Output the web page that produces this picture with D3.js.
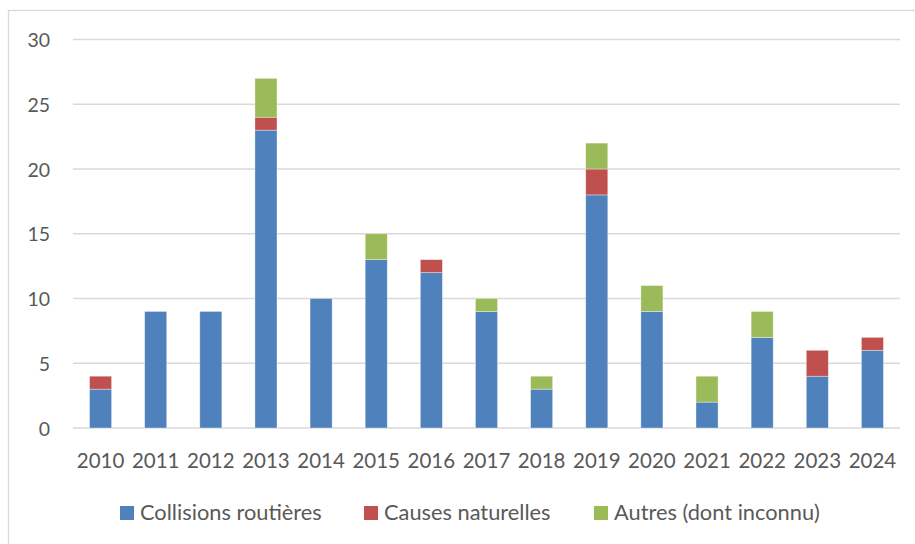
<!DOCTYPE html>
<html lang="fr">
<head>
<meta charset="UTF-8">
<title>Mortalité</title>
<style>
  body { margin: 0; background: #fff; }
  text { font-family: Lato, "Open Sans", sans-serif; fill: #595959; }
</style>
</head>
<body>
<script src="https://cdn.jsdelivr.net/npm/d3@7"></script>
<script>
  // données
  let years = ['2010', '2011', '2012', '2013', '2014', '2015', '2016', '2017', '2018', '2019', '2020', '2021', '2022', '2023', '2024']
  let collisions = [3, 9, 9, 23, 10, 13, 12, 9, 3, 18, 9, 2, 7, 4, 6]
  let naturelles = [1, 0, 0, 1, 0, 0, 1, 0, 0, 2, 0, 0, 0, 2, 1]
  let autres = [0, 0, 0, 3, 0, 2, 0, 1, 1, 2, 2, 2, 2, 0, 0]
  let seriesNames = ['Collisions routières', 'Causes naturelles', 'Autres (dont inconnu)']
  let colors = ['#4F81BD', '#C0504D', '#9BBB59']
  let yTicks = [0, 5, 10, 15, 20, 25, 30]

  let width = 915
  let height = 544

  let svg = d3.select('body').append('svg')
    .attr('width', width)
    .attr('height', height)

  // cadre du graphique
  svg.append('rect')
    .attr('x', 8.5).attr('y', 10.5)
    .attr('width', 930).attr('height', 560)
    .attr('fill', 'none')
    .attr('stroke', '#d9d9d9')
    .attr('stroke-width', 1.3)

  let table = years.map((y, i) => ({ year: y, c: collisions[i], n: naturelles[i], a: autres[i] }))
  let stack = d3.stack().keys(['c', 'n', 'a'])(table)

  let x = d3.scaleBand()
    .domain(years)
    .range([73, 900])
    .paddingInner(0.6)
    .paddingOuter(0.3)

  let y = d3.scaleLinear()
    .domain([0, 30])
    .range([428, 39.5])

  // lignes de la grille
  svg.append('g')
    .selectAll('line')
    .data(yTicks)
    .enter()
    .append('line')
    .attr('x1', 73).attr('x2', 900)
    .attr('y1', d => y(d)).attr('y2', d => y(d))
    .attr('stroke', '#d9d9d9')
    .attr('stroke-width', 1.4)

  // axe Y
  let yAxis = svg.append('g')
    .attr('transform', 'translate(50,0)')
    .call(d3.axisLeft(y).tickValues(yTicks).tickSize(0).tickPadding(0))
  yAxis.select('.domain').remove()
  yAxis.selectAll('text')
    .attr('font-size', 19.5)
    .attr('dy', '0.36em')
    .style('font-family', 'Lato, sans-serif')
    .attr('fill', '#595959')

  // barres empilées
  svg.append('g')
    .selectAll('g')
    .data(stack)
    .enter()
    .append('g')
    .attr('fill', (d, i) => colors[i])
    .selectAll('rect')
    .data(d => d.filter(p => p[1] > p[0]))
    .enter()
    .append('rect')
    .attr('x', d => x(d.data.year))
    .attr('width', x.bandwidth())
    .attr('y', d => y(d[1]))
    .attr('height', d => y(d[0]) - y(d[1]))
    .attr('stroke', '#ffffff')
    .attr('stroke-opacity', 0.5)
    .attr('stroke-width', 0.7)

  // axe X
  let xAxis = svg.append('g')
    .attr('transform', 'translate(0,428)')
    .call(d3.axisBottom(x).tickSize(0).tickPadding(0))
  xAxis.select('.domain').remove()
  xAxis.selectAll('text')
    .attr('font-size', 20.5)
    .attr('y', 39.5)
    .attr('dy', 0)
    .style('font-family', 'Lato, sans-serif')
    .attr('fill', '#595959')

  // légende
  let legendX = [120, 364, 594]
  let legend = svg.append('g')
    .selectAll('g')
    .data(seriesNames)
    .enter()
    .append('g')
    .attr('transform', (d, i) => `translate(${legendX[i]},506)`)
  legend.append('rect')
    .attr('width', 14).attr('height', 14)
    .attr('fill', (d, i) => colors[i])
  legend.append('text')
    .attr('x', 20).attr('y', 14)
    .attr('font-size', 21.8)
    .text(d => d)
</script>
</body>
</html>
